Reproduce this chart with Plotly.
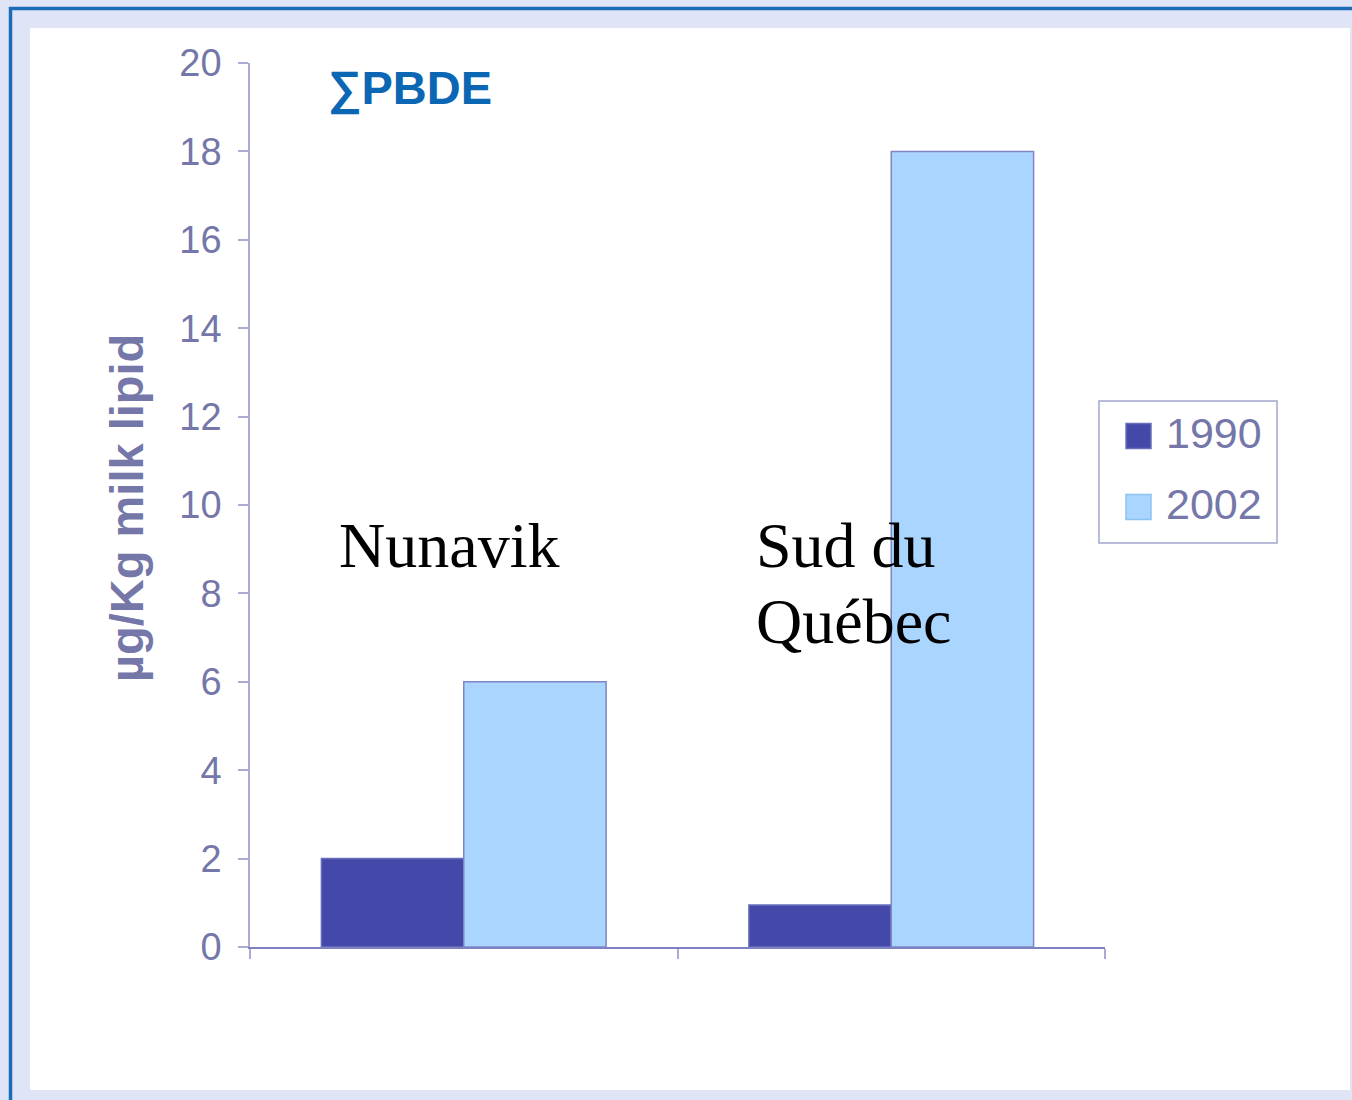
import plotly.graph_objects as go

# ---- data ----
categories = ["Nunavik", "Sud du Québec"]
category_labels = ["Nunavik", "Sud du<br>Québec"]
series_names = ["1990", "2002"]
values_1990 = [2, 0.95]
values_2002 = [6, 18]
y_ticks = [0, 2, 4, 6, 8, 10, 12, 14, 16, 18, 20]
title_text = "∑PBDE"
y_title = "µg/Kg milk lipid"

colors = ["#4448a8", "#aad5ff"]
line_colors = ["#6a6fba", "#7f86c6"]

W, H = 1352, 1100
L, R, T, B = 250, 247, 63, 153
PW, PH = W - L - R, H - T - B


def px_x(px):
    return (px - L) / PW


def px_y(py):
    return (H - B - py) / PH


fig = go.Figure()
for name, vals, c, lc in zip(series_names, [values_1990, values_2002], colors, line_colors):
    fig.add_trace(go.Bar(
        x=categories, y=vals, name=name,
        marker=dict(color=c, line=dict(color=lc, width=1.5)),
        showlegend=False,
    ))

shapes = []
# white panel
shapes.append(dict(type="rect", xref="paper", yref="paper",
                   x0=px_x(30), x1=px_x(1350), y0=px_y(1090), y1=px_y(28),
                   fillcolor="white", line=dict(width=0), layer="below"))
# blue frame lines
shapes.append(dict(type="line", xref="paper", yref="paper",
                   x0=px_x(10.5), x1=px_x(10.5), y0=px_y(1100), y1=px_y(7),
                   line=dict(color="#1c6cb6", width=3.5), layer="below"))
shapes.append(dict(type="line", xref="paper", yref="paper",
                   x0=px_x(9), x1=px_x(1352), y0=px_y(8.5), y1=px_y(8.5),
                   line=dict(color="#1c6cb6", width=3.5), layer="below"))
# legend box
shapes.append(dict(type="rect", xref="paper", yref="paper",
                   x0=px_x(1099), x1=px_x(1277), y0=px_y(543), y1=px_y(401),
                   fillcolor="white", line=dict(color="#a3a6cc", width=1.5)))

annotations = []
legend_y = [436, 507]
for i, (name, c, lc) in enumerate(zip(series_names, colors, ["#6a70b8", "#8cc2f2"])):
    cy = legend_y[i]
    shapes.append(dict(type="rect", xref="paper", yref="paper",
                       x0=px_x(1126), x1=px_x(1151), y0=px_y(cy + 12.5), y1=px_y(cy - 12.5),
                       fillcolor=c, line=dict(color=lc, width=1.5)))
    annotations.append(dict(xref="paper", yref="paper", x=px_x(1164), y=px_y(cy - 3),
                            text=name, showarrow=False, xanchor="left", yanchor="middle",
                            font=dict(family="Liberation Sans, Arial", size=43, color="#7577a9")))

# title
annotations.append(dict(xref="paper", yref="paper", x=px_x(326), y=px_y(88),
                        text="<b>" + title_text + "</b>", showarrow=False,
                        xanchor="left", yanchor="middle",
                        font=dict(family="Liberation Sans, Arial", size=47, color="#0b67b4")))
# y title
annotations.append(dict(xref="paper", yref="paper", x=px_x(126), y=px_y(508),
                        text="<b>" + y_title + "</b>", showarrow=False, textangle=-90,
                        xanchor="center", yanchor="middle",
                        font=dict(family="Liberation Sans, Arial", size=47, color="#7577a9")))

# category labels
label_left = [340, 757]
baseline0 = 567
line_step = 76
fs = 64
for i, lab in enumerate(category_labels):
    for j, line in enumerate(lab.split("<br>")):
        base = baseline0 + j * line_step
        annotations.append(dict(xref="paper", yref="paper", x=px_x(label_left[i] - 3),
                                y=px_y(base - 0.3375 * fs), text=line, showarrow=False,
                                xanchor="left", yanchor="middle",
                                font=dict(family="Liberation Serif, Times New Roman", size=fs,
                                          color="black")))

fig.update_layout(
    width=W, height=H,
    margin=dict(l=L, r=R, t=T, b=B),
    paper_bgcolor="#dfe4f7",
    plot_bgcolor="white",
    barmode="group", bargap=0.334, bargroupgap=0,
    showlegend=False,
    shapes=shapes,
    annotations=annotations,
    xaxis=dict(showticklabels=False, ticks="outside", tickson="boundaries", ticklen=10,
               tickcolor="#a9abd2", tickwidth=1.5, showline=True, linecolor="#7f82c2",
               linewidth=1.5, showgrid=False, zeroline=False),
    yaxis=dict(range=[0, 20], tickvals=y_ticks, ticks="outside", ticklen=10,
               tickcolor="#a9abd2", tickwidth=1.5, showline=True, linecolor="#a9abd2",
               linewidth=1.5, showgrid=False, zeroline=False, ticklabelstandoff=9,
               tickfont=dict(family="Liberation Sans, Arial", size=38, color="#7577a9")),
)

fig.write_html("out.html", config={"displayModeBar": False},
               post_script="document.body.style.margin='0';document.body.style.overflow='hidden';")
